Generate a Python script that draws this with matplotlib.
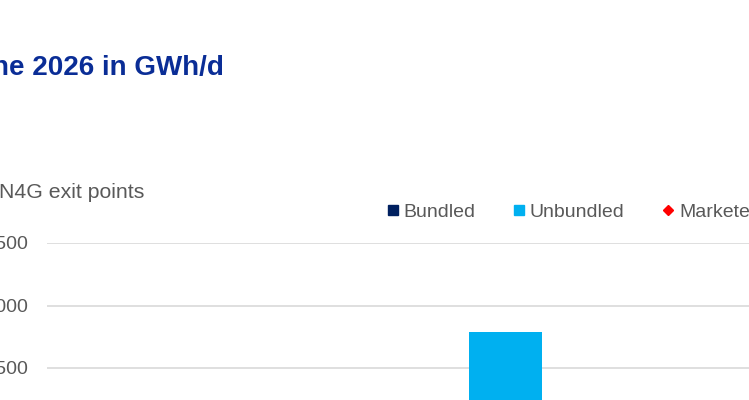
import matplotlib
matplotlib.use("Agg")
import matplotlib.pyplot as plt
from matplotlib.lines import Line2D

plt.rcParams['font.family'] = ['Liberation Sans', 'DejaVu Sans']

# ---- data (visible portion of the chart) ----
categories = [""]
bundled = [0]
unbundled = [1790]
series_names = ["Bundled", "Unbundled", "Marketed"]
title_text = "ne 2026 in GWh/d"
ylabel_text = "N4G exit points"
y_ticks = [1500, 2000, 2500]

W, H = 749, 400
fig = plt.figure(figsize=(W / 100, H / 100), dpi=100)

# axes partly outside the figure (reference is a crop of a larger chart)
left_px, right_px = 47, 1147
top_px, bottom_px = 243, 555.5
ax = fig.add_axes([left_px / W, 1 - bottom_px / H,
                   (right_px - left_px) / W, (bottom_px - top_px) / H])

x = list(range(len(categories)))
ax.bar(x, bundled, width=0.4, color="#002060", zorder=3)
ax.bar(x, unbundled, width=0.4, bottom=bundled, color="#00B0F0", zorder=3)

ax.set_xlim(-2.5, 3.5)
ax.set_ylim(0, 2500)
ax.set_yticks(y_ticks)
ax.set_yticklabels([f"{v:,}".replace(",", " ") for v in y_ticks])
ax.set_xticks([])
ax.tick_params(axis="y", length=0, pad=13.5, labelsize=14, labelcolor="#595959")
ax.grid(axis="y", color="#d9d9d9", linewidth=1.2, zorder=0)
for s in ax.spines.values():
    s.set_visible(False)

# title and axis label (left parts are outside the crop)
fig.text(-7.5 / W, 1 - 68 / H, title_text, fontsize=20, fontweight="bold",
         color="#0a2d96", ha="left", va="center")
fig.text(-1 / W, 1 - 193 / H, ylabel_text, fontsize=15.3, color="#595959",
         ha="left", va="center")

handles = [
    Line2D([], [], marker="s", linestyle="none", color="#002060", markersize=7),
    Line2D([], [], marker="s", linestyle="none", color="#00B0F0", markersize=7),
    Line2D([], [], marker="D", linestyle="none", color="#FF0000", markersize=5.5),
]
fig.legend(handles, series_names, loc="center left",
           bbox_to_anchor=(387 / W, 1 - 212 / H), ncol=3, frameon=False,
           fontsize=14, labelcolor="#595959", handlelength=0.6,
           handletextpad=0.25, columnspacing=1.95, borderpad=0, borderaxespad=0)

fig.savefig("out.png", dpi=100)
